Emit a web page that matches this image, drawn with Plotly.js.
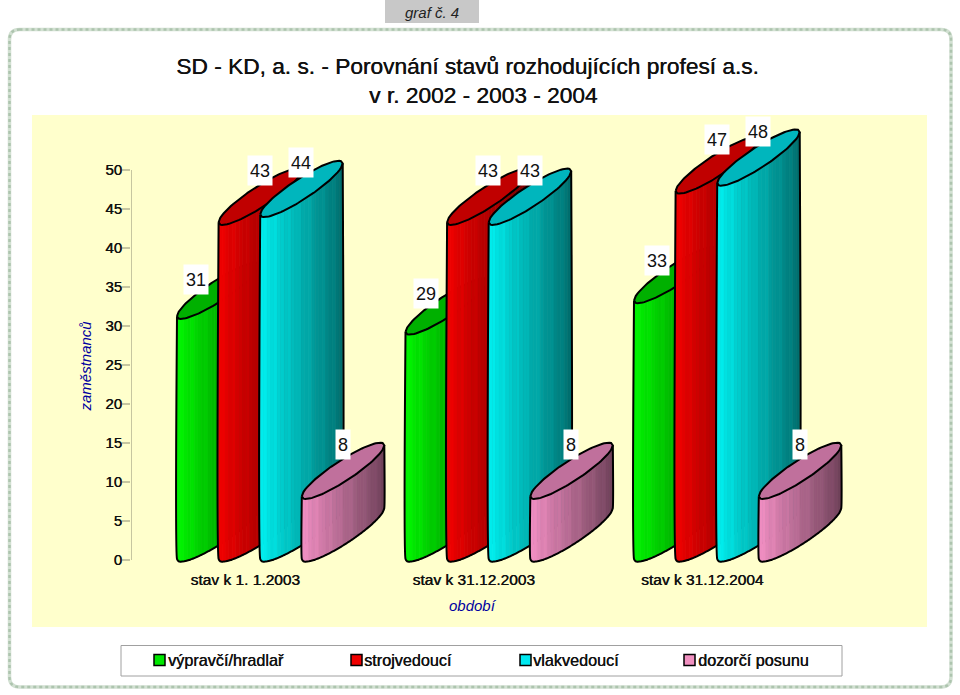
<!DOCTYPE html>
<html><head><meta charset="utf-8">
<script src="https://cdn.plot.ly/plotly-3.0.1.min.js"></script>
<style>html,body{margin:0;padding:0;background:#fff}#c{width:960px;height:695px}</style></head>
<body><div id="c"></div>
<script>
const categories = ['stav k 1. 1.2003', 'stav k 31.12.2003', 'stav k 31.12.2004'];
const seriesNames = ['výpravčí/hradlař', 'strojvedoucí', 'vlakvedoucí', 'dozorčí posunu'];
const vypravci = [31, 29, 33];
const strojvedouci = [43, 43, 47];
const vlakvedouci = [44, 43, 48];
const dozorci = [8, 8, 8];
const yTicks = [0, 5, 10, 15, 20, 25, 30, 35, 40, 45, 50];
const titleText = 'SD - KD, a. s. - Porovnání stavů rozhodujících profesí a.s.<br>\u00a0\u00a0\u00a0\u00a0\u00a0v r. 2002 - 2003 - 2004';
const yTitle = 'zaměstnanců', xTitle = 'období', tabText = 'graf č. 4';

const W = 960, H = 695;
const series = [vypravci, strojvedouci, vlakvedouci, dozorci];
const bright = [[0,242,0],[238,0,0],[0,236,236],[238,140,192]];
const capCol = ['#00b000','#c00000','#00b6bd','#c0709c'];
const swatch = ['#00e800','#f00000','#00e8f0','#f090c0'];
const font = 'Liberation Sans, Arial, sans-serif';
const heavy = '0.4px 0 0 #111';

// page pixels to axis units
const slotPx = 228.5, unitPx = 7.8;
const PX = 1/slotPx, PY = 1/unitPx;
const rx = 41.25*PX, tilt = 25.5*PY, thick = 12*PY;
const firstOff = 46*PX, stepOff = 41.6*PX;
const yOf = v => v*1.004 + 0.13;
const ripple = [0,.02,0,-.01,.03,0,0,-.01,.025,0,0,.02,-.01,0,.03,0,-.01,0,.025,0,0,.02,0,-.01];

function lower(cx, base, s){ return [cx+rx*s, base+tilt+tilt*s-thick*Math.sqrt(Math.max(0,1-s*s))]; }
function upper(cx, base, s){ return [cx+rx*s, base+tilt+tilt*s+thick*Math.sqrt(Math.max(0,1-s*s))]; }
function range(n){ const a=[]; for(let i=0;i<=n;i++)a.push(-1+2*i/n); return a; }

const traces = [];
categories.forEach((cat, c) => {
  series.forEach((vals, k) => {
    const cx = c + firstOff + stepOff*k + rx;
    const base = yOf(0), top = yOf(vals[c]);
    const n = ripple.length;
    const ss = range(n);
    for (let i=0;i<n;i++){
      const fine = [0,1,2,3,4].map(j => ss[i] + (ss[i+1]-ss[i])*j/4);
      const xs=[], ys=[];
      fine.forEach(s => { const p = lower(cx, top, s); xs.push(p[0]); ys.push(p[1]); });
      fine.slice().reverse().forEach(s => { const p = lower(cx, base, s); xs.push(p[0]); ys.push(p[1]); });
      xs.push(xs[0]); ys.push(ys[0]);
      const f = 1 - 0.52*(i/(n-1)) + ripple[i];
      const col = 'rgb('+bright[k].map(b => Math.round(Math.min(255,b*f))).join(',')+')';
      traces.push({type:'scatter',mode:'lines',x:xs,y:ys,fill:'toself',fillcolor:col,
        line:{color:col,width:0.8},hoverinfo:'skip',showlegend:false});
    }
    // cap
    const fine = range(48);
    const capX=[], capY=[];
    fine.forEach(s => { const p = lower(cx, top, s); capX.push(p[0]); capY.push(p[1]); });
    fine.slice().reverse().forEach(s => { const p = upper(cx, top, s); capX.push(p[0]); capY.push(p[1]); });
    capX.push(capX[0]); capY.push(capY[0]);
    traces.push({type:'scatter',mode:'lines',x:capX,y:capY,fill:'toself',fillcolor:capCol[k],
      line:{color:'#000',width:2},hoverinfo:'skip',showlegend:false});
    // outline of body
    const olX=[], olY=[];
    const l0 = lower(cx, top, -1);
    olX.push(l0[0]); olY.push(l0[1]);
    fine.forEach(s => { const p = lower(cx, base, s); olX.push(p[0]); olY.push(p[1]); });
    const r0 = lower(cx, top, 1);
    olX.push(r0[0]); olY.push(r0[1]);
    traces.push({type:'scatter',mode:'lines',x:olX,y:olY,line:{color:'#000',width:2,shape:'spline',smoothing:0.4},
      hoverinfo:'skip',showlegend:false});
  });
});

const px = x => x/W, py = y => 1-y/H;
function rr(x0,y0,x1,y1,r){
  return 'M'+px(x0+r)+','+py(y0)+' L'+px(x1-r)+','+py(y0)+' Q'+px(x1)+','+py(y0)+' '+px(x1)+','+py(y0+r)+
    ' L'+px(x1)+','+py(y1-r)+' Q'+px(x1)+','+py(y1)+' '+px(x1-r)+','+py(y1)+
    ' L'+px(x0+r)+','+py(y1)+' Q'+px(x0)+','+py(y1)+' '+px(x0)+','+py(y1-r)+
    ' L'+px(x0)+','+py(y0+r)+' Q'+px(x0)+','+py(y0)+' '+px(x0+r)+','+py(y0)+' Z';
}
const rect = (x0,y0,x1,y1,fill,lc,lw) => ({type:'rect',xref:'paper',yref:'paper',layer:'below',
  x0:px(x0),x1:px(x1),y0:py(y1),y1:py(y0),fillcolor:fill,line:{color:lc||fill,width:lw||0}});

const shapes = [
  {type:'path',xref:'paper',yref:'paper',layer:'below',path:rr(9.5,29.5,951,687,10),line:{color:'#d2e0d2',width:3.5}},
  {type:'path',xref:'paper',yref:'paper',layer:'below',path:rr(9.5,29.5,951,687,10),line:{color:'#adc4ae',width:2.5,dash:'dot'}},
  rect(385,0,479,23,'#c8c8c8'),
  rect(32,115,927,627,'#ffffcc'),
  rect(121,645.5,842,676,'#ffffff','#a0a0a0',1),
  {type:'line',xref:'x',yref:'y',layer:'above',x0:0,x1:0,y0:0,y1:50,line:{color:'#c6c6a0',width:2}}
];
const swatchX = [154,351,520,684], legendTextX = [166,362,531,696];
const annotations = [];
swatchX.forEach((x,k) => {
  shapes.push({type:'rect',xref:'paper',yref:'paper',x0:px(x),x1:px(x+11),y0:py(665.5),y1:py(654.5),
    fillcolor:swatch[k],line:{color:'#000',width:1.5}});
  annotations.push({xref:'paper',yref:'paper',x:px(legendTextX[k]),y:py(660),xanchor:'left',yanchor:'middle',
    text:seriesNames[k],showarrow:false,font:{family:font,size:16.2,color:'#111',shadow:heavy}});
});
annotations.push({xref:'paper',yref:'paper',x:px(432),y:py(13),xanchor:'center',yanchor:'middle',showarrow:false,
  text:'<i>'+tabText+'</i>',font:{family:font,size:15,color:'#222'}});
annotations.push({xref:'paper',yref:'paper',x:px(85),y:py(366.5),xanchor:'center',yanchor:'middle',showarrow:false,textangle:-90,
  text:'<i>'+yTitle+'</i>',font:{family:font,size:15,color:'#0000a0'}});
annotations.push({xref:'paper',yref:'paper',x:px(473),y:py(605),xanchor:'center',yanchor:'middle',showarrow:false,
  text:'<i>'+xTitle+'</i>',font:{family:font,size:15,color:'#0000a0'}});

// value labels
const labelDX = [18.5, 41, 41, 41], labelDY = [37, 51.5, 52, 52];
series.forEach((vals,k) => vals.forEach((v,c) => {
  annotations.push({xref:'x',yref:'y',x:c+firstOff+stepOff*k,y:yOf(v),xshift:labelDX[k]+(k===0?c*2:0),yshift:labelDY[k]+(k===0?c*1.5:0),
    xanchor:'center',yanchor:'middle',showarrow:false,text:String(v),bgcolor:'#ffffff',borderpad:2,
    height:25,font:{family:font,size:18,color:'#111'}});
}));

const layout = {
  width:W,height:H,margin:{l:0,r:0,t:0,b:0,pad:0},paper_bgcolor:'#ffffff',plot_bgcolor:'rgba(0,0,0,0)',
  showlegend:false,
  title:{text:titleText,x:467.5/W,xanchor:'center',xref:'paper',yref:'paper',y:1-73.5/H,yanchor:'top',
    font:{family:font,size:22.7,color:'#111',shadow:heavy}},
  xaxis:{domain:[131/W,(131+slotPx*3.5)/W],range:[0,3.5],tickmode:'array',tickvals:[0.5,1.5,2.5],ticktext:categories,
    showgrid:false,zeroline:false,showline:false,ticks:'',ticklen:0,ticklabelstandoff:1,
    tickfont:{family:font,size:15.5,color:'#111',shadow:heavy}},
  yaxis:{domain:[(H-567.8)/H,(H-92)/H],range:[-1,60],tickmode:'array',tickvals:yTicks,
    showgrid:false,zeroline:false,showline:false,ticks:'outside',ticklen:8,tickwidth:1.5,tickcolor:'#c6c6a0',
    ticklabelstandoff:-3,tickfont:{family:font,size:15,color:'#111',shadow:heavy}},
  shapes,annotations
};
Plotly.newPlot('c',traces,layout,{staticPlot:true,displayModeBar:false});
</script></body></html>
